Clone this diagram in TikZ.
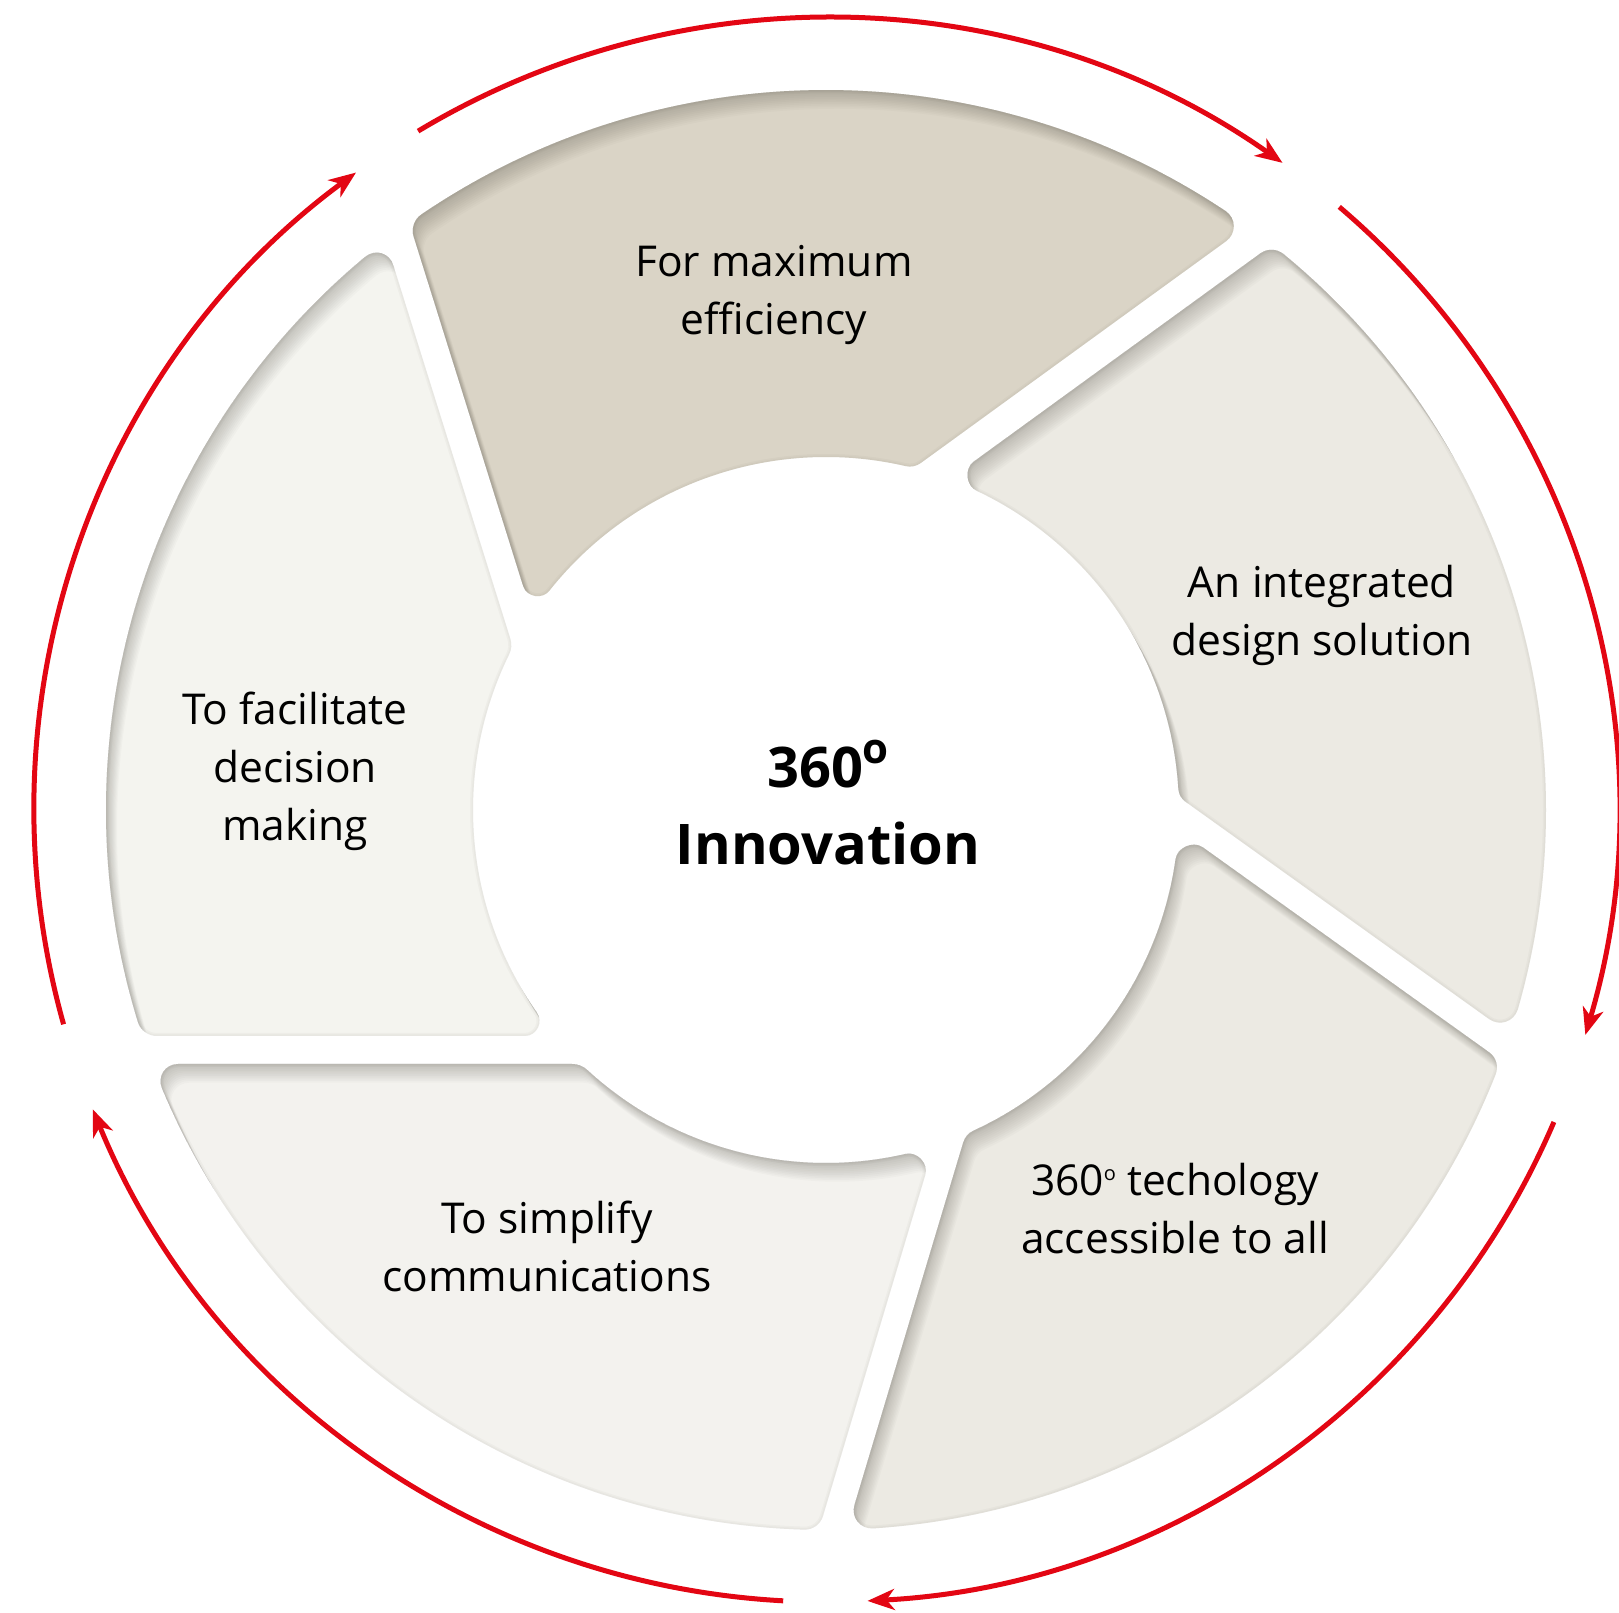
\documentclass[tikz,border=0pt]{standalone}
\usepackage{fontspec}
\setmainfont{Open Sans}
\usetikzlibrary{arrows.meta,calc}
\definecolor{segtop}{HTML}{DAD4C6}
\definecolor{segmid}{HTML}{ECEAE3}
\definecolor{seglow}{HTML}{F4F4EF}
\definecolor{seglowb}{HTML}{F3F2EE}
\definecolor{shadowc}{HTML}{5E5A50}
\definecolor{arrowred}{RGB}{227,6,19}
% #1,#2: gap on the clockwise side (normal angle, offset); #3,#4: gap on the other side
% all four corners are rounded by hand
\newcommand{\segpath}[4]{({#1-acos(#2/720)+2.07}:720pt)
 arc[start angle={#1-acos(#2/720)+2.07}, end angle={#3-acos(#4/720)-1.154}, radius=720pt]
 .. controls ($({#3-acos(#4/720)}:720pt)!5.9pt!({#3-acos(#4/720)-1.154}:720pt)$)
 and ($({#3-acos(#4/720)}:720pt)!5.9pt!({#3-acos(#4/353)}:353pt)$)
 .. ($({#3-acos(#4/720)}:720pt)!14.5pt!({#3-acos(#4/353)}:353pt)$)
 -- ($({#3-acos(#4/353)}:353pt)!30pt!({#3-acos(#4/720)}:720pt)$)
 .. controls ($({#3-acos(#4/353)}:353pt)!18pt!({#3-acos(#4/720)}:720pt)$)
 and ($({#3-acos(#4/353)}:353pt)!18pt!({#3-acos(#4/353)-4.87}:353pt)$)
 .. ({#3-acos(#4/353)-4.87}:353pt)
 arc[start angle={#3-acos(#4/353)-4.87}, end angle={#1-acos(#2/353)+1.38}, radius=353pt]
 .. controls ($({#1-acos(#2/353)}:353pt)!3.1pt!({#1-acos(#2/353)+1.38}:353pt)$)
 and ($({#1-acos(#2/353)}:353pt)!3.1pt!({#1-acos(#2/720)}:720pt)$)
 .. ($({#1-acos(#2/353)}:353pt)!8.5pt!({#1-acos(#2/720)}:720pt)$)
 -- ($({#1-acos(#2/720)}:720pt)!26pt!({#1-acos(#2/353)}:353pt)$)
 .. controls ($({#1-acos(#2/720)}:720pt)!13pt!({#1-acos(#2/353)}:353pt)$)
 and ($({#1-acos(#2/720)}:720pt)!13pt!({#1-acos(#2/720)+2.07}:720pt)$)
 .. cycle}
\newcommand{\segment}[5]{%
\begin{scope}
\path[clip] \segpath{#1}{#2}{#3}{#4};
\fill[#5] (-900,-900) rectangle (900,900);
\foreach \s in {2,4,...,22}{%
\fill[shadowc, opacity=0.03, even odd rule, shift={(0.5*\s,-0.85*\s)}] (-2000,-2000) rectangle (2000,2000) \segpath{#1}{#2}{#3}{#4};}
\foreach \w in {3,6}{%
\draw[shadowc, opacity=0.04, line width=\w pt] \segpath{#1}{#2}{#3}{#4};}
\end{scope}}
\tikzset{
  lbl/.style={align=center, font=\fontsize{42.5}{58}\selectfont, text=black, inner sep=0pt, anchor=base},
  ctrlbl/.style={align=center, font=\bfseries\fontsize{56}{77}\selectfont, text=black, inner sep=0pt, anchor=base},
  redarc/.style={draw=arrowred, line width=5pt, -{Stealth[length=27pt, width=21pt, inset=8pt]}}
}
\begin{document}
\begin{tikzpicture}[x=1pt,y=1pt]
\fill[white] (-826,-802) rectangle (793,810);
\useasboundingbox (-826,-802) rectangle (793,810);
% segments
\segment{126}{225}{197.4}{222}{segtop}
\segment{54.4}{216}{126}{195}{segmid}
\segment{-16.7}{227}{54.4}{189}{segmid}
\segment{-90}{254}{-16.7}{200}{seglowb}
\segment{197.4}{250}{270}{226}{seglow}
% labels (anchored at the baseline of the last line)
\node[ctrlbl] (ctr) at (2,-54) {360\raisebox{24pt}{\fontsize{42}{42}\selectfont o}\\Innovation};
\node[lbl] (ltop) at (-52,475) {For maximum\\efficiency};
\node[lbl] (lright) at (496,155) {An integrated\\design solution};
\node[lbl] (lbr) at (349,-443.3) {360\raisebox{15pt}{\fontsize{20}{20}\selectfont o} techology\\accessible to all};
\node[lbl] (lbl) at (-279,-481) {To simplify\\communications};
\node[lbl] (lleft) at (-531,-30) {To facilitate\\decision\\making};
% red arrows
\coordinate (r1) at (121:792pt);
\coordinate (r2) at (49.6:792pt);
\coordinate (r3) at (-23.2:792pt);
\coordinate (r4) at (-93.1:792pt);
\coordinate (r5) at (195.7:792pt);
\draw[redarc] (r1) arc[start angle=121, end angle=54.8, radius=792pt];
\draw[redarc] (r2) arc[start angle=49.6, end angle=-16.5, radius=792pt];
\draw[redarc] (r3) arc[start angle=-23.2, end angle=-87, radius=792pt];
\draw[redarc] (r4) arc[start angle=-93.1, end angle=-157.8, radius=792pt];
\draw[redarc] (r5) arc[start angle=195.7, end angle=126.4, radius=792pt];
\end{tikzpicture}
\end{document}
